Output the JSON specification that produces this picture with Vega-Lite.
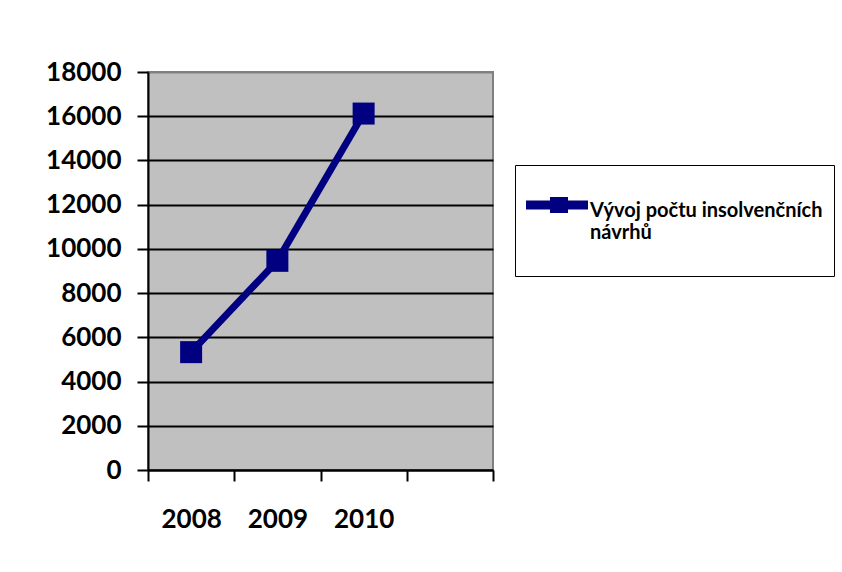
{
  "$schema": "https://vega.github.io/schema/vega-lite/v6.json",
  "width": 345,
  "height": 398,
  "autosize": {"type": "none"},
  "padding": {"left": 148, "top": 72, "right": 349, "bottom": 102},
  "background": "white",
  "config": {
    "view": {"fill": "#c0c0c0", "stroke": "#808080", "strokeWidth": 2},
    "font": "Lato"
  },
  "data": {
    "values": [
      {"year": 2008, "value": 5330, "series": "Vývoj počtu insolvenčních návrhů"},
      {"year": 2009, "value": 9460, "series": "Vývoj počtu insolvenčních návrhů"},
      {"year": 2010, "value": 16120, "series": "Vývoj počtu insolvenčních návrhů"}
    ]
  },
  "layer": [
    {
      "mark": {"type": "line", "strokeWidth": 7},
      "encoding": {
        "x": {
          "field": "year",
          "type": "quantitative",
          "scale": {"domain": [2007.5, 2011.5], "nice": false, "zero": false},
          "axis": {
            "orient": "bottom",
            "values": [2007.5, 2008.5, 2009.5, 2010.5, 2011.5],
            "labels": false,
            "ticks": true,
            "tickSize": 11,
            "tickColor": "black",
            "tickWidth": 2,
            "domainColor": "black",
            "domainWidth": 2,
            "grid": false,
            "title": null
          }
        },
        "y": {
          "field": "value",
          "type": "quantitative",
          "scale": {"domain": [0, 18000], "nice": false},
          "axis": {
            "values": [0, 2000, 4000, 6000, 8000, 10000, 12000, 14000, 16000, 18000],
            "format": "d",
            "grid": true,
            "gridColor": {"condition": {"test": "datum.value === 18000", "value": "#808080"}, "value": "black"},
            "gridWidth": 2,
            "tickSize": 11,
            "tickColor": "black",
            "tickWidth": 2,
            "domainColor": "black",
            "domainWidth": 2,
            "labelFont": "Lato",
            "labelFontSize": 26,
            "labelFontWeight": "bold",
            "labelColor": "black",
            "labelPadding": 16,
            "title": null
          }
        },
        "color": {
          "field": "series",
          "type": "nominal",
          "scale": {"range": ["#000080"]},
          "legend": {
            "orient": "none",
            "legendX": 367,
            "legendY": 93,
            "title": null,
            "strokeColor": "black",
            "fillColor": "white",
            "padding": 11,
            "labelFont": "Lato",
            "labelFontSize": 20,
            "labelFontWeight": "bold",
            "labelColor": "black",
            "labelBaseline": "top",
            "labelExpr": "['Vývoj počtu insolvenčních', 'návrhů', '']",
            "labelLimit": 400,
            "labelOffset": 14,
            "symbolType": "M-1,-0.02H1.48V0.34H-1Z M-0.04,-0.16H0.68V0.48H-0.04Z",
            "symbolSize": 2500,
            "symbolStrokeWidth": 0,
            "symbolFillColor": "#000080",
            "symbolStrokeColor": "#000080",
            "symbolOpacity": 1
          }
        }
      }
    },
    {
      "mark": {"type": "point", "shape": "square", "filled": true, "size": 484, "opacity": 1},
      "encoding": {
        "x": {
          "field": "year",
          "type": "quantitative",
          "axis": {
            "orient": "bottom",
            "values": [2008, 2009, 2010],
            "format": "d",
            "ticks": false,
            "tickSize": 0,
            "domain": false,
            "grid": false,
            "labelFont": "Lato",
            "labelFontSize": 26,
            "labelFontWeight": "bold",
            "labelColor": "black",
            "labelPadding": 36,
            "title": null
          }
        },
        "y": {"field": "value", "type": "quantitative"},
        "color": {"value": "#000080"}
      }
    }
  ],
  "resolve": {"axis": {"x": "independent"}}
}
